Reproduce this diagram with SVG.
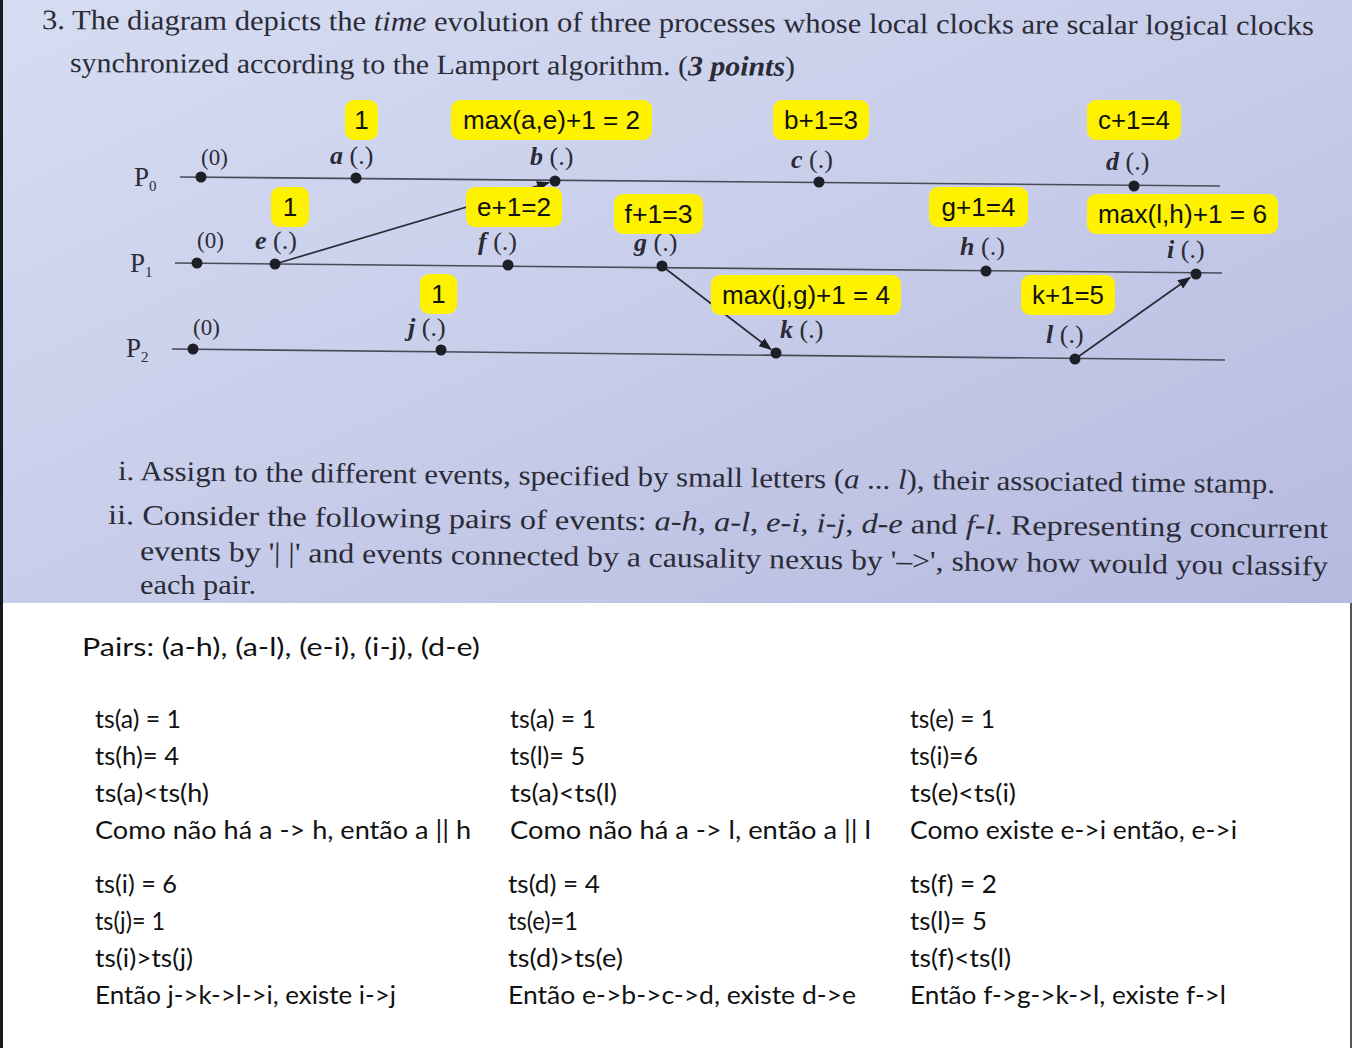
<svg xmlns="http://www.w3.org/2000/svg" width="1352" height="1048" viewBox="0 0 1352 1048">
<defs>
<linearGradient id="paper" x1="0" y1="0" x2="1" y2="1">
<stop offset="0" stop-color="#d6ddf2"/>
<stop offset="0.5" stop-color="#c8cdea"/>
<stop offset="1" stop-color="#b6badf"/>
</linearGradient>
<marker id="ah" markerWidth="13" markerHeight="10" refX="12" refY="5" orient="auto" markerUnits="userSpaceOnUse">
<path d="M0,0 L13,5 L0,10 z" fill="#1e1e26"/>
</marker>
<style>
.ser{font-family:"Liberation Serif","Times New Roman",serif;fill:#2a2b36}
.para{font-size:28px}
.ev{font-size:23px}
.ev2{font-size:26px}
.evl{font-style:italic;font-weight:bold}
.pl{font-size:27px}
.sub{font-size:15px}
.proc{stroke:#4a4b58;stroke-width:1.6;fill:none}
.dot{fill:#1e1e26}
.msg{stroke:#2a2b34;stroke-width:1.7;fill:none;marker-end:url(#ah)}
.lab rect{fill:#fff200}
.lab text{font-family:"Liberation Sans",Arial,sans-serif;font-size:26px;fill:#111;text-anchor:middle}
.ans{font-family:Lato,"Open Sans",sans-serif;font-size:25px;fill:#111}
</style>
</defs>

<rect x="0" y="0" width="1352" height="1048" fill="#ffffff"/>
<rect x="0" y="0" width="1352" height="603" fill="url(#paper)"/>
<rect x="0" y="0" width="3" height="1048" fill="#16191e"/>
<rect x="1350" y="603" width="2" height="445" fill="#555"/>

<g id="question" class="ser">
<text class="para" x="42" y="29" textLength="1272" lengthAdjust="spacingAndGlyphs" transform="rotate(0.27 42 29)">3. The diagram depicts the <tspan font-style="italic">time</tspan> evolution of three processes whose local clocks are scalar logical clocks</text>
<text class="para" x="70" y="72" textLength="725" lengthAdjust="spacingAndGlyphs" transform="rotate(0.3 70 72)">synchronized according to the Lamport algorithm. (<tspan font-style="italic" font-weight="bold">3 points</tspan>)</text>
</g>

<g id="processes">
<g id="P0">
<text class="ser pl" x="134" y="186">P<tspan class="sub" dy="5">0</tspan></text>
<line class="proc" x1="180" y1="177" x2="1220" y2="186"/>
</g>
<g id="P1">
<text class="ser pl" x="130" y="272">P<tspan class="sub" dy="5">1</tspan></text>
<line class="proc" x1="175" y1="263" x2="1222" y2="273"/>
</g>
<g id="P2">
<text class="ser pl" x="126" y="357">P<tspan class="sub" dy="5">2</tspan></text>
<line class="proc" x1="172" y1="349" x2="1225" y2="360"/>
</g>
</g>

<g id="connectors">
<line class="msg" x1="275" y1="264" x2="549" y2="182.5"/>
<line class="msg" x1="662" y1="266" x2="771" y2="349.5"/>
<line class="msg" x1="1075" y1="359" x2="1190" y2="277.5"/>
</g>

<g id="events" class="ser ev">
<g id="p0-init"><circle class="dot" cx="201" cy="177" r="5.5"/><text x="201" y="165">(0)</text></g>
<g id="ev-a"><circle class="dot" cx="356" cy="178" r="5.5"/><text class="ev2" x="330" y="164"><tspan class="evl">a</tspan> (.)</text></g>
<g id="ev-b"><circle class="dot" cx="555" cy="181" r="5.5"/><text class="ev2" x="530" y="165"><tspan class="evl">b</tspan> (.)</text></g>
<g id="ev-c"><circle class="dot" cx="819" cy="182" r="5.5"/><text class="ev2" x="791" y="168"><tspan class="evl">c</tspan> (.)</text></g>
<g id="ev-d"><circle class="dot" cx="1134" cy="186" r="5.5"/><text class="ev2" x="1106" y="170"><tspan class="evl">d</tspan> (.)</text></g>
<g id="p1-init"><circle class="dot" cx="197" cy="263" r="5.5"/><text x="197" y="248">(0)</text></g>
<g id="ev-e"><circle class="dot" cx="275" cy="264" r="5.5"/><text class="ev2" x="255" y="249"><tspan class="evl">e</tspan> (.)</text></g>
<g id="ev-f"><circle class="dot" cx="508" cy="265" r="5.5"/><text class="ev2" x="478" y="250"><tspan class="evl">f</tspan> (.)</text></g>
<g id="ev-g"><circle class="dot" cx="662" cy="266" r="5.5"/><text class="ev2" x="634" y="251"><tspan class="evl">g</tspan> (.)</text></g>
<g id="ev-h"><circle class="dot" cx="986" cy="271" r="5.5"/><text class="ev2" x="960" y="255"><tspan class="evl">h</tspan> (.)</text></g>
<g id="ev-i"><circle class="dot" cx="1196" cy="274" r="5.5"/><text class="ev2" x="1167" y="258"><tspan class="evl">i</tspan> (.)</text></g>
<g id="p2-init"><circle class="dot" cx="193" cy="349" r="5.5"/><text x="193" y="335">(0)</text></g>
<g id="ev-j"><circle class="dot" cx="441" cy="350" r="5.5"/><text class="ev2" x="408" y="336"><tspan class="evl">j</tspan> (.)</text></g>
<g id="ev-k"><circle class="dot" cx="776" cy="353" r="5.5"/><text class="ev2" x="780" y="338"><tspan class="evl">k</tspan> (.)</text></g>
<g id="ev-l"><circle class="dot" cx="1075" cy="359" r="5.5"/><text class="ev2" x="1046" y="343"><tspan class="evl">l</tspan> (.)</text></g>
</g>

<g id="labels" class="lab">
<g id="lab-a"><rect x="345" y="100" width="33" height="40" rx="9"/><text x="361.5" y="129">1</text></g>
<g id="lab-b"><rect x="451" y="100" width="201" height="40" rx="9"/><text x="551.5" y="129" textLength="177" lengthAdjust="spacingAndGlyphs">max(a,e)+1 = 2</text></g>
<g id="lab-c"><rect x="773" y="100" width="96" height="40" rx="9"/><text x="821" y="129" textLength="74" lengthAdjust="spacingAndGlyphs">b+1=3</text></g>
<g id="lab-d"><rect x="1087" y="100" width="94" height="40" rx="9"/><text x="1134" y="129" textLength="72" lengthAdjust="spacingAndGlyphs">c+1=4</text></g>
<g id="lab-e"><rect x="271" y="187" width="38" height="40" rx="9"/><text x="290" y="216">1</text></g>
<g id="lab-f"><rect x="466" y="187" width="96" height="40" rx="9"/><text x="514" y="216" textLength="74" lengthAdjust="spacingAndGlyphs">e+1=2</text></g>
<g id="lab-g"><rect x="614" y="194" width="89" height="40" rx="9"/><text x="658.5" y="223" textLength="68" lengthAdjust="spacingAndGlyphs">f+1=3</text></g>
<g id="lab-h"><rect x="929" y="187" width="99" height="40" rx="9"/><text x="978.5" y="216" textLength="74" lengthAdjust="spacingAndGlyphs">g+1=4</text></g>
<g id="lab-i"><rect x="1087" y="194" width="191" height="40" rx="9"/><text x="1182.5" y="223" textLength="169" lengthAdjust="spacingAndGlyphs">max(l,h)+1 = 6</text></g>
<g id="lab-j"><rect x="420" y="274" width="37" height="40" rx="9"/><text x="438.5" y="303">1</text></g>
<g id="lab-k"><rect x="711" y="275" width="190" height="40" rx="9"/><text x="806" y="304" textLength="168" lengthAdjust="spacingAndGlyphs">max(j,g)+1 = 4</text></g>
<g id="lab-l"><rect x="1021" y="275" width="94" height="40" rx="9"/><text x="1068" y="304" textLength="72" lengthAdjust="spacingAndGlyphs">k+1=5</text></g>
</g>

<g id="tasks" class="ser">
<text class="para" x="118" y="480" textLength="1157" lengthAdjust="spacingAndGlyphs" transform="rotate(0.65 118 480)">i. Assign to the different events, specified by small letters (<tspan font-style="italic">a</tspan> ... <tspan font-style="italic">l</tspan>), their associated time stamp.</text>
<text class="para" x="108" y="524" textLength="1220" lengthAdjust="spacingAndGlyphs" transform="rotate(0.66 108 524)">ii. Consider the following pairs of events: <tspan font-style="italic">a-h</tspan>, <tspan font-style="italic">a-l</tspan>, <tspan font-style="italic">e-i</tspan>, <tspan font-style="italic">i-j</tspan>, <tspan font-style="italic">d-e</tspan> and <tspan font-style="italic">f-l</tspan>. Representing concurrent</text>
<text class="para" x="140" y="560" textLength="1188" lengthAdjust="spacingAndGlyphs" transform="rotate(0.75 140 560)">events by '| |' and events connected by a causality nexus by '–&gt;', show how would you classify</text>
<text class="para" x="140" y="594" textLength="116" lengthAdjust="spacingAndGlyphs">each pair.</text>
</g>

<g id="answers" class="ans">
<text x="82" y="656" textLength="398" lengthAdjust="spacingAndGlyphs">Pairs: (a-h), (a-l), (e-i), (i-j), (d-e)</text>

<text x="95" y="728" textLength="86" lengthAdjust="spacingAndGlyphs">ts(a) = 1</text>
<text x="95" y="765" textLength="84" lengthAdjust="spacingAndGlyphs">ts(h)= 4</text>
<text x="95" y="802" textLength="114" lengthAdjust="spacingAndGlyphs">ts(a)&lt;ts(h)</text>
<text x="95" y="839" textLength="376" lengthAdjust="spacingAndGlyphs">Como não há a -&gt; h, então a || h</text>

<text x="510" y="728" textLength="86" lengthAdjust="spacingAndGlyphs">ts(a) = 1</text>
<text x="510" y="765" textLength="75" lengthAdjust="spacingAndGlyphs">ts(l)= 5</text>
<text x="510" y="802" textLength="107" lengthAdjust="spacingAndGlyphs">ts(a)&lt;ts(l)</text>
<text x="510" y="839" textLength="361" lengthAdjust="spacingAndGlyphs">Como não há a -&gt; l, então a || l</text>

<text x="910" y="728" textLength="85" lengthAdjust="spacingAndGlyphs">ts(e) = 1</text>
<text x="910" y="765" textLength="68" lengthAdjust="spacingAndGlyphs">ts(i)=6</text>
<text x="910" y="802" textLength="106" lengthAdjust="spacingAndGlyphs">ts(e)&lt;ts(i)</text>
<text x="910" y="839" textLength="327" lengthAdjust="spacingAndGlyphs">Como existe e-&gt;i então, e-&gt;i</text>

<text x="95" y="893" textLength="82" lengthAdjust="spacingAndGlyphs">ts(i) = 6</text>
<text x="95" y="930" textLength="70" lengthAdjust="spacingAndGlyphs">ts(j)= 1</text>
<text x="95" y="967" textLength="98" lengthAdjust="spacingAndGlyphs">ts(i)&gt;ts(j)</text>
<text x="95" y="1004" textLength="301" lengthAdjust="spacingAndGlyphs">Então j-&gt;k-&gt;l-&gt;i, existe i-&gt;j</text>

<text x="508" y="893" textLength="92" lengthAdjust="spacingAndGlyphs">ts(d) = 4</text>
<text x="508" y="930" textLength="70" lengthAdjust="spacingAndGlyphs">ts(e)=1</text>
<text x="508" y="967" textLength="115" lengthAdjust="spacingAndGlyphs">ts(d)&gt;ts(e)</text>
<text x="508" y="1004" textLength="348" lengthAdjust="spacingAndGlyphs">Então e-&gt;b-&gt;c-&gt;d, existe d-&gt;e</text>

<text x="910" y="893" textLength="87" lengthAdjust="spacingAndGlyphs">ts(f) = 2</text>
<text x="910" y="930" textLength="77" lengthAdjust="spacingAndGlyphs">ts(l)= 5</text>
<text x="910" y="967" textLength="101" lengthAdjust="spacingAndGlyphs">ts(f)&lt;ts(l)</text>
<text x="910" y="1004" textLength="316" lengthAdjust="spacingAndGlyphs">Então f-&gt;g-&gt;k-&gt;l, existe f-&gt;l</text>
</g>
</svg>
